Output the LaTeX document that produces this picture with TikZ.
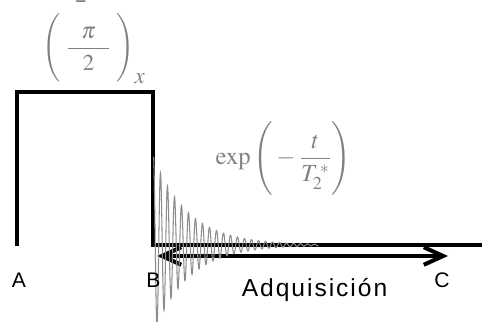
\documentclass[tikz,border=0pt]{standalone}
\usepackage{amsmath}
\usepackage{mathptmx}
\usepackage{fontspec}
\setmainfont{Liberation Serif}
\newfontfamily\labfont{Liberation Sans}
\newfontfamily\acqfont{Liberation Sans}[LetterSpace=8]
\usepackage{tikz}
\usetikzlibrary{arrows.meta}
\definecolor{figline}{RGB}{0,0,0}
\definecolor{figtext}{RGB}{128,128,128}
\definecolor{figwave}{RGB}{140,140,140}
\tikzset{
  pulse/.style ={draw=figline, line width=2.3pt, line join=miter},
  fid/.style   ={draw=figwave, line width=0.6pt},
  acq/.style   ={draw=figline, line width=2.3pt, {Straight Barb[length=11pt,width=10pt]}-{Straight Barb[length=11pt,width=10pt]}},
  lab/.style   ={font=\labfont\fontsize{12}{14}\selectfont, inner sep=0pt, anchor=base},
  eqn/.style   ={text=figtext, inner sep=0pt},
}

\begin{document}
\begin{tikzpicture}
  \useasboundingbox (0,0) rectangle (9.64,6.44);
  \draw[pulse] (0.34,1.52) -- (0.34,4.6) -- (3.06,4.6) -- (3.06,1.54) -- (9.7,1.54);
  \coordinate (acqL) at (3.14,1.32);
  \coordinate (acqR) at (8.96,1.32);
  \draw[acq] (acqL) -- (acqR);
  \draw[fid] plot[domain=0:3.3, samples=800] ({3.07+\x}, {1.54+1.76*exp(-\x/0.7)*cos(2571.4*\x)});
  \node[lab] (A) at (0.38,0.68) {A};
  \node[lab] (B) at (3.07,0.68) {B};
  \node[lab] (C) at (8.84,0.68) {C};
  \node[lab, font=\acqfont\fontsize{14}{16}\selectfont] (acq) at (6.29,0.50) {Adquisición};
  \node[eqn, anchor=base, font=\fontsize{13}{16}\selectfont] (top2) at (1.62,6.38) {2};
  \node[eqn, anchor=base west, font=\fontsize{13}{16}\selectfont] (pihalf) at (0.84,5.36)
    {$\Bigg(\;\dfrac{\hspace{0.6em}\pi\hspace{0.6em}}{\rule{0pt}{11pt}2}\;\Bigg)_{\textstyle x}$};
  \node[eqn, anchor=base, font=\fontsize{14}{17.5}\selectfont] (decay) at (5.67,3.14)
    {$\exp\Bigg(-\dfrac{\hspace{0.2em}t\hspace{0.2em}}{T_2^{\,*}}\Bigg)$};
\end{tikzpicture}
\end{document}
